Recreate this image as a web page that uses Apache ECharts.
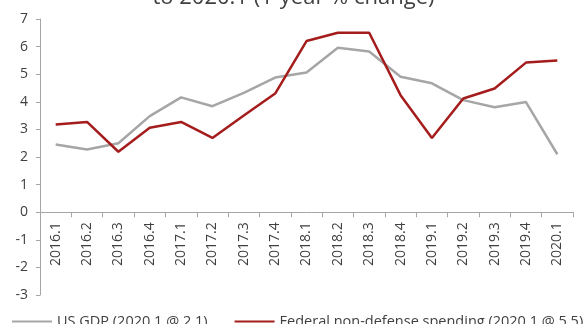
<!DOCTYPE html>
<html>
<head>
<meta charset="utf-8">
<script src="https://cdn.jsdelivr.net/npm/echarts@6/dist/echarts.min.js"></script>
<style>
  html, body { margin: 0; padding: 0; background: #ffffff; }
  #chart { width: 587px; height: 324px; }
</style>
</head>
<body>
<div id="chart"></div>
<script>
// Quarters on the horizontal axis
const quarters = [
  '2016.1', '2016.2', '2016.3', '2016.4',
  '2017.1', '2017.2', '2017.3', '2017.4',
  '2018.1', '2018.2', '2018.3', '2018.4',
  '2019.1', '2019.2', '2019.3', '2019.4',
  '2020.1'
];

// 1-year % change, US GDP
const usGdp = [2.45, 2.27, 2.5, 3.48, 4.16, 3.84, 4.32, 4.88, 5.06, 5.96, 5.82, 4.91, 4.67, 4.06, 3.8, 3.99, 2.1];

// 1-year % change, federal non-defense spending
const nonDefense = [3.18, 3.27, 2.19, 3.06, 3.27, 2.69, 3.5, 4.3, 6.2, 6.5, 6.5, 4.24, 2.69, 4.12, 4.48, 5.42, 5.5];

const seriesNames = ['US GDP (2020.1 @ 2.1)', 'Federal non-defense spending (2020.1 @ 5.5)'];
const titleText = 'to 2020.1 (1-year % change)';

const Y_MIN = -3;
const Y_MAX = 7;

const FONT = '"Open Sans", "Liberation Sans", sans-serif';
const TEXT = '#404040';
const AXIS = '#a6a6a6';
const GREY = '#a6a6a6';
const RED = '#a51c1c';

const GRID = { left: 40, right: 14, top: 19, bottom: 29 };
const CHART_H = 324;

// The category axis sits on the zero line: shift it up from the grid bottom
// by the share of the plot height that lies below zero.
const plotH = CHART_H - GRID.top - GRID.bottom;
const zeroOffset = -plotH * (0 - Y_MIN) / (Y_MAX - Y_MIN);

const chart = echarts.init(document.getElementById('chart'), null, { renderer: 'canvas' });

chart.setOption({
  animation: false,
  backgroundColor: '#ffffff',
  textStyle: { fontFamily: FONT, color: TEXT },
  graphic: [{
    type: 'text',
    left: 'center',
    top: -13,
    style: {
      text: titleText,
      font: '22px ' + FONT,
      fill: TEXT
    }
  }],
  legend: {
    left: 7,
    top: 309,
    width: 900,
    orient: 'horizontal',
    itemWidth: 40,
    itemHeight: 2,
    itemGap: 27,
    icon: 'rect',
    textStyle: { fontFamily: FONT, fontSize: 14.5, color: TEXT },
    data: seriesNames
  },
  grid: {
    left: GRID.left,
    right: GRID.right,
    top: GRID.top,
    bottom: GRID.bottom,
    containLabel: false,
    outerBoundsMode: 'none'
  },
  xAxis: {
    type: 'category',
    data: quarters,
    boundaryGap: true,
    position: 'bottom',
    offset: zeroOffset,
    axisLine: { onZero: false, lineStyle: { color: AXIS, width: 1 } },
    axisTick: { show: true, alignWithLabel: false, length: 5, lineStyle: { color: AXIS } },
    axisLabel: {
      rotate: 90,
      margin: 10,
      interval: 0,
      fontFamily: FONT,
      fontSize: 14,
      color: TEXT
    },
    splitLine: { show: false }
  },
  yAxis: {
    type: 'value',
    min: Y_MIN,
    max: Y_MAX,
    interval: 1,
    axisLine: { show: true, lineStyle: { color: AXIS, width: 1 } },
    axisTick: { show: true, length: 4, lineStyle: { color: AXIS } },
    axisLabel: {
      margin: 12,
      fontFamily: FONT,
      fontSize: 14,
      color: TEXT
    },
    splitLine: { show: false }
  },
  series: [
    {
      name: seriesNames[0],
      type: 'line',
      data: usGdp,
      symbol: 'none',
      lineStyle: { color: GREY, width: 2.5 },
      itemStyle: { color: GREY },
      z: 2
    },
    {
      name: seriesNames[1],
      type: 'line',
      data: nonDefense,
      symbol: 'none',
      lineStyle: { color: RED, width: 2.5 },
      itemStyle: { color: RED },
      z: 3
    }
  ]
});
</script>
</body>
</html>
